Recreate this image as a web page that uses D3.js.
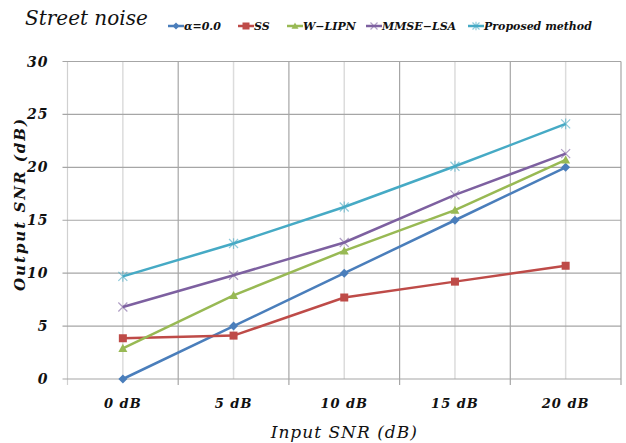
<!DOCTYPE html>
<html>
<head>
<meta charset="utf-8">
<script src="https://cdn.jsdelivr.net/npm/d3@7"></script>
<style>
  body { margin: 0; background: #fff; }
  svg text { font-family: "DejaVu Serif", serif; font-style: italic; }
</style>
</head>
<body>
<svg id="svg"></svg>
<script>
// data
var categories = ["0 dB", "5 dB", "10 dB", "15 dB", "20 dB"];
var seriesNames = ["α=0.0", "SS", "W\u2212LIPN", "MMSE\u2212LSA", "Proposed method"];
var alphaZero = [0, 5, 10, 15, 20];
var ssValues = [3.85, 4.1, 7.7, 9.2, 10.7];
var wlipnValues = [2.9, 7.9, 12.1, 15.95, 20.7];
var mmseValues = [6.8, 9.8, 12.9, 17.4, 21.3];
var proposedValues = [9.7, 12.8, 16.25, 20.1, 24.1];
var yTicks = [0, 5, 10, 15, 20, 25, 30];

var width = 626, height = 443;
var margin = {left: 67.5, right: 5, top: 61.5, bottom: 64};
var plot_w = width - margin.left - margin.right;
var plot_h = height - margin.top - margin.bottom;

var colors = ["#4A7EBB", "#BE4B48", "#98B954", "#7D60A0", "#46AAC5"];
var markers = ["diamond", "square", "triangle", "cross", "star"];
var allValues = [alphaZero, ssValues, wlipnValues, mmseValues, proposedValues];

var svg = d3.select("#svg").attr("width", width).attr("height", height);
var container = svg.append("g").attr("transform", `translate(${margin.left}, ${margin.top})`);

var xScale = d3.scaleBand().domain(categories).range([0, plot_w]).padding(0);
var yScale = d3.scaleLinear().domain([0, 30]).range([plot_h, 0]);

// light verticals at category centres
container.selectAll(".vc")
  .data(categories)
  .enter().append("line")
  .attr("x1", d => xScale(d) + xScale.bandwidth() / 2)
  .attr("x2", d => xScale(d) + xScale.bandwidth() / 2)
  .attr("y1", 0).attr("y2", plot_h)
  .attr("stroke", "#dcdcdc").attr("stroke-width", 1.5);

// boundaries
var bounds = categories.map(d => xScale(d)).concat([plot_w]);
container.selectAll(".vb")
  .data(bounds)
  .enter().append("line")
  .attr("x1", d => d).attr("x2", d => d)
  .attr("y1", 0).attr("y2", plot_h + 6)
  .attr("stroke", (d, i) => i == 0 ? "#d0d0d0" : "#a6a6a6").attr("stroke-width", 1.2);

// horizontal gridlines
container.selectAll(".hg")
  .data(yTicks)
  .enter().append("line")
  .attr("x1", -5).attr("x2", plot_w)
  .attr("y1", d => yScale(d)).attr("y2", d => yScale(d))
  .attr("stroke", "#a6a6a6").attr("stroke-width", 1.2);

// y tick labels
container.selectAll(".yl")
  .data(yTicks)
  .enter().append("text")
  .attr("x", -19).attr("y", d => yScale(d) + 5)
  .attr("text-anchor", "end")
  .style("font-size", "14px").style("font-weight", "bold").style("letter-spacing", "1px")
  .attr("fill", "#111")
  .text(d => d);

// x tick labels
container.selectAll(".xl")
  .data(categories)
  .enter().append("text")
  .attr("x", d => xScale(d) + xScale.bandwidth() / 2)
  .attr("y", plot_h + 29)
  .attr("text-anchor", "middle")
  .style("font-size", "13px").style("font-weight", "bold").style("letter-spacing", "1px")
  .attr("fill", "#111")
  .text(d => d.replace(" ", "\u00a0"));

var line = d3.line()
  .x((d, i) => xScale(categories[i]) + xScale.bandwidth() / 2)
  .y(d => yScale(d));

function drawMarker(g, type, color, size) {
  var s = size;
  if (type == "diamond")
    g.append("path").attr("d", `M0,${-s}L${s},0L0,${s}L${-s},0Z`).attr("fill", color);
  else if (type == "square")
    g.append("rect").attr("x", -s).attr("y", -s).attr("width", 2 * s).attr("height", 2 * s).attr("fill", color);
  else if (type == "triangle")
    g.append("path").attr("d", `M0,${-s}L${s},${s * 0.8}L${-s},${s * 0.8}Z`).attr("fill", color);
  else if (type == "cross")
    g.append("path").attr("d", `M${-s},${-s}L${s},${s}M${-s},${s}L${s},${-s}`).attr("stroke", color).attr("stroke-width", 1.2).attr("opacity", 0.6);
  else
    g.append("path").attr("d", `M${-s},${-s}L${s},${s}M${-s},${s}L${s},${-s}M0,${-s * 1.2}L0,${s * 1.2}`).attr("stroke", color).attr("stroke-width", 1.2).attr("opacity", 0.6);
}

allValues.forEach((vals, k) => {
  container.append("path")
    .datum(vals)
    .attr("d", line)
    .attr("fill", "none")
    .attr("stroke", colors[k])
    .attr("stroke-width", 2.5);
  vals.forEach((v, i) => {
    var g = container.append("g")
      .attr("transform", `translate(${xScale(categories[i]) + xScale.bandwidth() / 2}, ${yScale(v)})`);
    var sz = markers[k] == "square" ? 4 : 4.5;
    drawMarker(g, markers[k], colors[k], sz);
  });
});

// title
svg.append("text")
  .attr("x", 25).attr("y", 25)
  .style("font-size", "20px")
  .attr("fill", "#111")
  .text("Street noise");

// legend
var legendX = [168, 238, 287, 366, 468];
var legend = svg.selectAll(".lg")
  .data(seriesNames)
  .enter().append("g")
  .attr("transform", (d, i) => `translate(${legendX[i]}, 26)`);
legend.append("line")
  .attr("x1", 0).attr("x2", 16).attr("y1", 0).attr("y2", 0)
  .attr("stroke", (d, i) => colors[i]).attr("stroke-width", 2.5);
legend.each(function(d, i) {
  var g = d3.select(this).append("g").attr("transform", "translate(8,0)");
  drawMarker(g, markers[i], colors[i], 3.5);
});
legend.append("text")
  .attr("x", 16).attr("y", 4)
  .style("font-size", "11px").style("font-weight", "bold")
  .attr("fill", "#111")
  .text(d => d);

// axis titles
svg.append("text")
  .attr("x", margin.left + plot_w / 2).attr("y", 438)
  .attr("text-anchor", "middle")
  .style("font-size", "17px").style("letter-spacing", "1px")
  .attr("fill", "#111")
  .text("Input SNR (dB)");

svg.append("text")
  .attr("transform", "translate(25, 204) rotate(-90)")
  .attr("text-anchor", "middle")
  .style("font-size", "15px").style("font-weight", "bold").style("letter-spacing", "2px")
  .attr("fill", "#111")
  .text("Output SNR (dB)");
</script>
</body>
</html>
